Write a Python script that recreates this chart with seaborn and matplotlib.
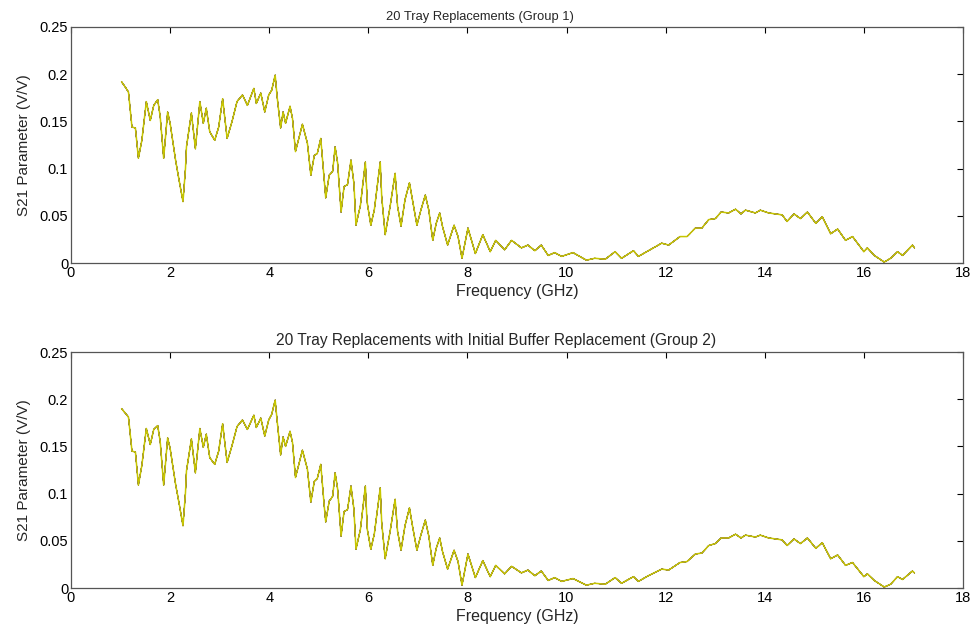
import matplotlib
matplotlib.use("Agg")
import matplotlib.pyplot as plt
import seaborn as sns
import pandas as pd

# ---- data (frequency in GHz, S21 in V/V) ----
# segment A: 1 - 4.6 GHz
freq_a = [1.02, 1.10, 1.16, 1.23, 1.30, 1.36, 1.43, 1.52, 1.60, 1.67, 1.75, 1.80, 1.87, 1.95, 2.00,
          2.11, 2.18, 2.26, 2.31, 2.33, 2.43, 2.51, 2.60, 2.67, 2.73, 2.80, 2.90, 2.98, 3.06, 3.15,
          3.25, 3.35, 3.46, 3.56, 3.69, 3.74, 3.83, 3.91, 3.99, 4.05, 4.12, 4.16, 4.23, 4.28, 4.33,
          4.42, 4.47, 4.53]
g1_a = [0.192, 0.186, 0.181, 0.144, 0.143, 0.111, 0.130, 0.171, 0.151, 0.167, 0.173, 0.155, 0.111, 0.160, 0.148,
        0.109, 0.088, 0.065, 0.100, 0.123, 0.159, 0.121, 0.171, 0.148, 0.164, 0.139, 0.130, 0.144, 0.174, 0.132,
        0.150, 0.171, 0.178, 0.167, 0.185, 0.169, 0.180, 0.160, 0.178, 0.183, 0.199, 0.176, 0.143, 0.160, 0.148,
        0.166, 0.153, 0.118]
g2_a = [0.190, 0.185, 0.181, 0.145, 0.144, 0.109, 0.130, 0.169, 0.152, 0.168, 0.172, 0.155, 0.109, 0.159, 0.148,
        0.110, 0.090, 0.066, 0.101, 0.124, 0.158, 0.122, 0.169, 0.149, 0.163, 0.138, 0.131, 0.145, 0.174, 0.133,
        0.151, 0.171, 0.178, 0.168, 0.183, 0.170, 0.180, 0.161, 0.178, 0.184, 0.199, 0.177, 0.141, 0.160, 0.150,
        0.166, 0.154, 0.117]
# segment B: 4.6 - 8 GHz (strong ripple)
freq_b = [4.67, 4.77, 4.84, 4.91, 4.97, 5.04, 5.11, 5.14, 5.21, 5.28, 5.33, 5.38, 5.45, 5.51, 5.58,
          5.65, 5.71, 5.75, 5.84, 5.94, 5.98, 6.05, 6.12, 6.24, 6.27, 6.34, 6.44, 6.54, 6.59, 6.66,
          6.74, 6.83, 6.89, 6.98, 7.06, 7.15, 7.22, 7.30, 7.37, 7.44, 7.50, 7.60, 7.73, 7.81, 7.89, 8.01]
g1_b = [0.147, 0.127, 0.093, 0.114, 0.116, 0.132, 0.088, 0.069, 0.093, 0.097, 0.123, 0.106, 0.054, 0.081, 0.083,
        0.109, 0.084, 0.040, 0.061, 0.107, 0.063, 0.040, 0.056, 0.107, 0.070, 0.030, 0.060, 0.095, 0.060, 0.039,
        0.067, 0.085, 0.067, 0.040, 0.056, 0.072, 0.056, 0.024, 0.042, 0.053, 0.038, 0.019, 0.040, 0.028, 0.005, 0.037]
g2_b = [0.146, 0.126, 0.091, 0.113, 0.116, 0.131, 0.087, 0.070, 0.092, 0.097, 0.122, 0.105, 0.055, 0.081, 0.083,
        0.108, 0.083, 0.041, 0.062, 0.108, 0.062, 0.041, 0.057, 0.106, 0.069, 0.031, 0.060, 0.094, 0.060, 0.040,
        0.066, 0.085, 0.066, 0.040, 0.056, 0.072, 0.055, 0.024, 0.042, 0.053, 0.038, 0.020, 0.040, 0.028, 0.003, 0.036]
# segment C: 8 - 17 GHz
freq_c = [8.16, 8.31, 8.46, 8.57, 8.75, 8.89, 9.09, 9.22, 9.36, 9.49, 9.63, 9.76, 9.90,
          10.13, 10.40, 10.57, 10.78, 10.98, 11.11, 11.35, 11.45, 11.65, 11.92, 12.06, 12.29, 12.43,
          12.60, 12.73, 12.87, 13.00, 13.12, 13.27, 13.41, 13.52, 13.61, 13.81, 13.91, 14.08, 14.35,
          14.45, 14.59, 14.72, 14.86, 15.03, 15.16, 15.33, 15.47, 15.63, 15.77, 16.00, 16.07, 16.21,
          16.41, 16.54, 16.68, 16.78, 16.98, 17.02]
g1_c = [0.010, 0.030, 0.012, 0.024, 0.014, 0.024, 0.016, 0.019, 0.013, 0.019, 0.008, 0.011, 0.007,
        0.011, 0.003, 0.005, 0.004, 0.012, 0.005, 0.013, 0.007, 0.013, 0.021, 0.019, 0.028, 0.028,
        0.037, 0.037, 0.046, 0.047, 0.054, 0.053, 0.057, 0.052, 0.056, 0.053, 0.056, 0.053, 0.051,
        0.044, 0.052, 0.047, 0.054, 0.042, 0.049, 0.031, 0.036, 0.024, 0.028, 0.012, 0.016, 0.008,
        0.001, 0.005, 0.012, 0.008, 0.019, 0.016]
g2_c = [0.011, 0.029, 0.012, 0.024, 0.015, 0.023, 0.016, 0.019, 0.013, 0.018, 0.008, 0.011, 0.007,
        0.010, 0.003, 0.005, 0.004, 0.011, 0.005, 0.012, 0.007, 0.013, 0.020, 0.019, 0.027, 0.028,
        0.036, 0.037, 0.045, 0.047, 0.053, 0.053, 0.057, 0.053, 0.056, 0.054, 0.056, 0.053, 0.051,
        0.045, 0.052, 0.047, 0.053, 0.042, 0.048, 0.031, 0.035, 0.024, 0.027, 0.012, 0.015, 0.008,
        0.001, 0.004, 0.012, 0.009, 0.018, 0.016]

freq_all = freq_a + freq_b + freq_c
s21_g1 = g1_a + g1_b + g1_c
s21_g2 = g2_a + g2_b + g2_c

n_traces = 20
titles = ["20 Tray Replacements (Group 1)",
          "20 Tray Replacements with Initial Buffer Replacement (Group 2)"]
xticks = [0, 2, 4, 6, 8, 10, 12, 14, 16, 18]
yticks = [0, 0.05, 0.1, 0.15, 0.2, 0.25]
ytick_labels = ["0", "0.05", "0.1", "0.15", "0.2", "0.25"]

# MATLAB classic colour order: b g r c m y k
matlab_colors = [(0, 0, 1), (0, 0.5, 0), (1, 0, 0), (0, 0.75, 0.75),
                 (0.75, 0, 0.75), (0.78, 0.78, 0), (0.25, 0.25, 0.25)]

sns.set_theme(style="white")
plt.rcParams["font.family"] = ["Liberation Sans", "DejaVu Sans"]

fig = plt.figure(figsize=(9.79, 6.30), dpi=100)
ax_w = 892 / 979
ax_h = 236 / 630
ax1 = fig.add_axes([71 / 979, 1 - 263 / 630, ax_w, ax_h])
ax2 = fig.add_axes([71 / 979, 1 - 588 / 630, ax_w, ax_h])

palette = [matlab_colors[i % 7] for i in range(n_traces)]

panel_specs = [
    (ax1, freq_all, s21_g1, titles[0], 9.3, 0.459),
    (ax2, freq_all, s21_g2, titles[1], 11.2, 0.476),
]

for ax, fr, vals, title, tsize, tx in panel_specs:
    frames = []
    for t in range(n_traces):
        frames.append(pd.DataFrame({"f": fr, "s": vals, "trace": t}))
    df = pd.concat(frames, ignore_index=True)
    under = df[df["trace"] < n_traces - 1]
    top = df[df["trace"] == n_traces - 1]
    sns.lineplot(data=under, x="f", y="s", hue="trace", palette=palette[:-1], estimator=None,
                 sort=False, legend=False, linewidth=0.5, ax=ax)
    sns.lineplot(data=top, x="f", y="s", color=palette[-1], estimator=None,
                 sort=False, legend=False, linewidth=1.1, ax=ax)
    ax.set_xlim(0, 18)
    ax.set_ylim(0, 0.25)
    ax.set_xticks(xticks)
    ax.set_xticklabels([str(x) for x in xticks])
    ax.set_yticks(yticks)
    ax.set_yticklabels(ytick_labels)
    ax.set_xlabel("Frequency (GHz)", fontsize=11.5, labelpad=3)
    ax.set_ylabel("S21 Parameter (V/V)", fontsize=11, labelpad=6)
    ax.set_title(title, fontsize=tsize, x=tx, pad=5)
    ax.tick_params(axis="both", which="both", direction="in", length=4, width=0.8,
                   top=True, right=True, labelsize=10.5, colors="black", pad=2)
    for sp in ax.spines.values():
        sp.set_visible(True)
        sp.set_color("#555555")
        sp.set_linewidth(0.9)

fig.savefig("out.png", dpi=100, facecolor="white")
